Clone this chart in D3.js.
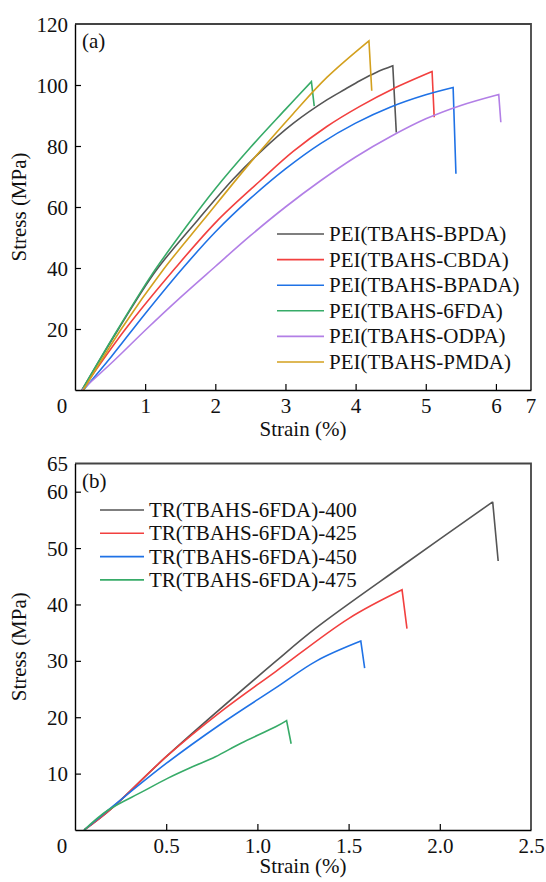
<!DOCTYPE html>
<html>
<head>
<meta charset="utf-8">
<script src="https://cdn.jsdelivr.net/npm/d3@7"></script>
<style>
  html, body { margin: 0; padding: 0; background: #fff; }
  svg text { font-family: "Liberation Serif", "Tinos", "Times New Roman", "Times", "Noto Serif", "DejaVu Serif", serif; fill: #111; }
</style>
</head>
<body>
<svg id="chart" width="546" height="882"></svg>
<script>
// ---- Panel (a): PEI films, stress–strain ----
const seriesNamesA = ["PEI(TBAHS-BPDA)", "PEI(TBAHS-CBDA)", "PEI(TBAHS-BPADA)",
                      "PEI(TBAHS-6FDA)", "PEI(TBAHS-ODPA)", "PEI(TBAHS-PMDA)"];
const coloursA = ["#555555", "#f2403f", "#1f72e6", "#37ab68", "#b27fe6", "#d3a01e"];
// [strain %, stress MPa]; the last point of each is the post-break drop
const bpda  = [[0.1,0],[0.62,20],[1.15,39],[1.76,56],[2.25,69],[2.64,78],[3.11,87.4],[3.59,95.1],[3.85,98.6],[4.06,101.4],[4.3,104.2],[4.53,106.3],[4.58,84.4]];
const cbda  = [[0.1,0],[0.72,20],[1.43,40],[2.02,55.3],[2.64,68.6],[3.11,78.2],[3.59,86.4],[4.06,93],[4.53,98.7],[5.09,104.4],[5.12,89.4]];
const bpada = [[0.12,0],[0.52,11],[1.0,25],[1.52,39.5],[2.0,51.8],[2.5,62.8],[3.0,72.5],[3.5,80.8],[4.0,87.5],[4.5,92.8],[5.0,96.8],[5.39,99.2],[5.43,70.9]];
const f6fda = [[0.1,0],[0.6,19.5],[1.1,38],[1.6,54],[2.0,66],[2.5,79.5],[3.0,92],[3.37,101.1],[3.41,93.1]];
const odpa  = [[0.1,0],[0.55,9.5],[1.02,20],[1.5,30.3],[2.0,40.5],[2.5,50.6],[3.0,60],[3.5,68.6],[4.0,76.4],[4.5,83.1],[5.0,88.9],[5.5,93.3],[6.04,96.9],[6.07,87.8]];
const pmda  = [[0.12,0],[0.66,20],[1.26,39.5],[1.83,55.7],[2.49,74.3],[3.11,90.6],[3.59,102.5],[4.19,114.5],[4.23,98.1]];
const seriesA = [bpda, cbda, bpada, f6fda, odpa, pmda];
const xTicksA = [1, 2, 3, 4, 5, 6];
const yTicksA = [20, 40, 60, 80, 100, 120];
const xDomainA = [0, 6.5];
const yDomainA = [0, 120];
const xEndLabelA = "7";

// ---- Panel (b): TR membranes, stress–strain ----
const seriesNamesB = ["TR(TBAHS-6FDA)-400", "TR(TBAHS-6FDA)-425", "TR(TBAHS-6FDA)-450", "TR(TBAHS-6FDA)-475"];
const coloursB = ["#555555", "#f2403f", "#1f72e6", "#37ab68"];
const tr400 = [[0.05,0],[0.2,3.8],[0.5,13],[1.1,29.9],[1.32,35.8],[1.8,47],[2.29,58.2],[2.32,47.7]];
const tr425 = [[0.05,0],[0.2,3.8],[0.5,13],[0.8,21],[1.1,28.1],[1.5,37.5],[1.793,42.6],[1.82,35.7]];
const tr450 = [[0.05,0],[0.2,4],[0.5,11.8],[0.8,18.8],[1.1,25.2],[1.325,30],[1.567,33.5],[1.588,28.7]];
const tr475 = [[0.05,0],[0.18,3.5],[0.37,6.8],[0.51,9.2],[0.65,11.3],[0.77,13],[0.91,15.4],[1.1,18.3],[1.16,19.4],[1.185,15.3]];
const seriesB = [tr400, tr425, tr450, tr475];
const xTicksB = [0.5, 1.0, 1.5, 2.0, 2.5];
const yTicksB = [10, 20, 30, 40, 50, 60, 65];
const xDomainB = [0, 2.5];
const yDomainB = [0, 65];

const svg = d3.select("#chart");
const FONT = 21;
const FAMILY = '"Liberation Serif", "Tinos", "Times New Roman", "Times", "Noto Serif", "DejaVu Serif", serif';

function drawPanel(cfg) {
  const { left, right, top, bottom } = cfg.box;
  const x = d3.scaleLinear().domain(cfg.xDomain).range([left, right]);
  const y = d3.scaleLinear().domain(cfg.yDomain).range([bottom, top]);
  const g = svg.append("g");

  // frame: top and right edges
  g.append("path")
    .attr("d", `M${left},${top}H${right}V${bottom}`)
    .attr("fill", "none").attr("stroke", "#444").attr("stroke-width", 1.8);

  // curves: smooth rising branch, then a straight drop at break
  const line = d3.line().x(d => x(d[0])).y(d => y(d[1])).curve(d3.curveCatmullRom.alpha(0.5));
  cfg.series.forEach((s, i) => {
    const rise = s.slice(0, -1);
    const drop = s[s.length - 1];
    g.append("path")
      .attr("d", line(rise) + `L${x(drop[0])},${y(drop[1])}`)
      .attr("fill", "none")
      .attr("stroke", cfg.colours[i])
      .attr("stroke-width", 1.6)
      .attr("stroke-linejoin", "miter");
  });

  // axes with inward ticks
  const xAxis = d3.axisBottom(x).tickValues(cfg.xTicks).tickSizeInner(-6).tickSizeOuter(0)
    .tickPadding(8).tickFormat(cfg.xFormat);
  const gx = g.append("g").attr("transform", `translate(0,${bottom})`).call(xAxis);
  const yAxis = d3.axisLeft(y).tickValues(cfg.yTicks).tickSizeInner(-6).tickSizeOuter(0)
    .tickPadding(7).tickFormat(d3.format("d"));
  const gy = g.append("g").attr("transform", `translate(${left},0)`).call(yAxis);
  [gx, gy].forEach(a => {
    a.attr("font-family", FAMILY).attr("font-size", FONT);
    a.select(".domain").attr("stroke", "#000").attr("stroke-width", 1.4);
    a.selectAll(".tick line").attr("stroke", "#000").attr("stroke-width", 1.2);
    a.selectAll("text").attr("font-size", FONT).attr("fill", "#111");
  });
  gx.selectAll(".tick text").attr("dy", "0.71em");
  gy.selectAll(".tick text").attr("dy", "0.34em");
  // tick marks that would sit on the frame are not drawn
  gx.selectAll(".tick").filter(d => d === cfg.xDomain[1]).select("line").remove();
  gy.selectAll(".tick").filter(d => d === cfg.yDomain[1]).select("line").remove();

  // shared origin label
  g.append("text").attr("x", left - 13).attr("y", bottom + 8).attr("dy", "0.71em")
    .attr("text-anchor", "middle").attr("font-size", FONT).text("0");

  if (cfg.xEndLabel) {
    g.append("text").attr("x", right).attr("y", bottom + 8).attr("dy", "0.71em")
      .attr("text-anchor", "middle").attr("font-size", FONT).text(cfg.xEndLabel);
  }

  // panel tag
  g.append("text").attr("x", left + 7).attr("y", top + 24)
    .attr("font-size", FONT).text(cfg.tag);

  // axis titles
  g.append("text").attr("x", (left + right) / 2).attr("y", bottom + cfg.xTitleGap)
    .attr("text-anchor", "middle").attr("font-size", FONT).text("Strain (%)");
  g.append("text").attr("transform", `translate(26,${(top + bottom) / 2}) rotate(-90)`)
    .attr("text-anchor", "middle").attr("font-size", FONT).text("Stress (MPa)");

  // legend
  const lg = g.append("g");
  cfg.names.forEach((n, i) => {
    const yy = cfg.legend.y0 + i * cfg.legend.dy;
    lg.append("line").attr("x1", cfg.legend.x0).attr("x2", cfg.legend.x1)
      .attr("y1", yy).attr("y2", yy).attr("stroke", cfg.colours[i]).attr("stroke-width", 1.6);
    lg.append("text").attr("x", cfg.legend.x1 + 5).attr("y", yy).attr("dy", "0.33em")
      .attr("font-size", FONT).text(n);
  });
}

drawPanel({
  box: { left: 75, right: 531, top: 24, bottom: 390 },
  xDomain: xDomainA, yDomain: yDomainA,
  xTicks: xTicksA, yTicks: yTicksA,
  xFormat: d3.format("d"), xEndLabel: xEndLabelA,
  series: seriesA, colours: coloursA, names: seriesNamesA,
  tag: "(a)", xTitleGap: 46,
  legend: { x0: 277, x1: 324, y0: 234, dy: 25.6 }
});

drawPanel({
  box: { left: 75, right: 531, top: 463.5, bottom: 830 },
  xDomain: xDomainB, yDomain: yDomainB,
  xTicks: xTicksB, yTicks: yTicksB,
  xFormat: d3.format(".1f"), xEndLabel: null,
  series: seriesB, colours: coloursB, names: seriesNamesB,
  tag: "(b)", xTitleGap: 43,
  legend: { x0: 100, x1: 144, y0: 510, dy: 23.3 }
});
</script>
</body>
</html>
